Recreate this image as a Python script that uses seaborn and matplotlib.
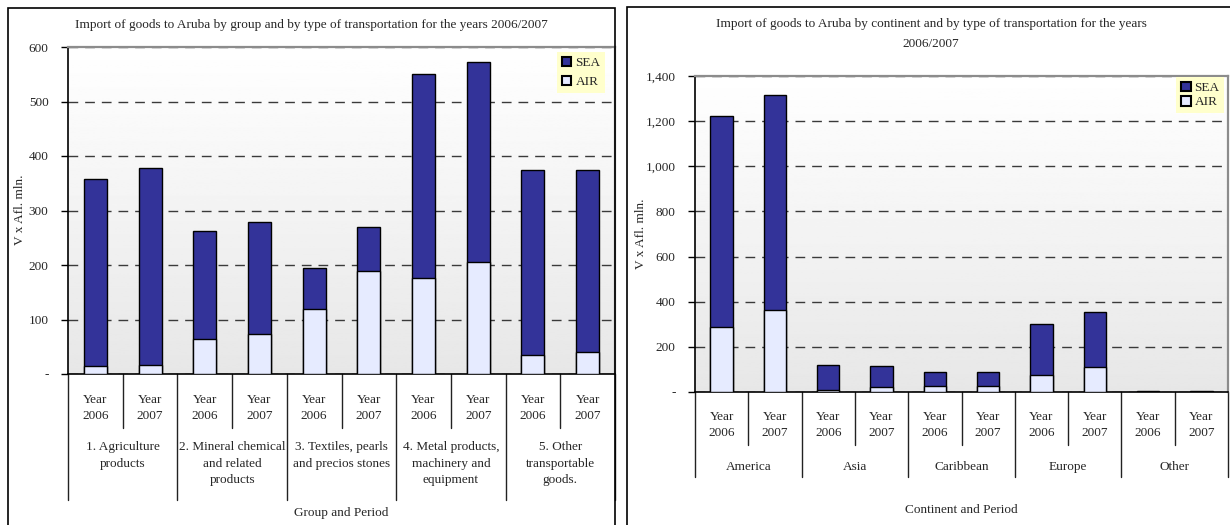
import numpy as np
import pandas as pd
import matplotlib
matplotlib.use('Agg')
import matplotlib.pyplot as plt
import matplotlib.patches as mpatches
from matplotlib.ticker import FuncFormatter
import seaborn as sns

# data (Afl. mln.)
years = ['2006', '2007']
groups = ['1. Agriculture\nproducts', '2. Mineral chemical\nand related\nproducts',
          '3. Textiles, pearls\nand precios stones', '4. Metal products,\nmachinery and\nequipment',
          '5. Other\ntransportable\ngoods.']
group_total = [357, 378, 262, 279, 195, 270, 550, 572, 374, 375]
group_air = [14, 16, 64, 73, 120, 189, 177, 205, 35, 40]

continents = ['America', 'Asia', 'Caribbean', 'Europe', 'Other']
cont_total = [1224, 1316, 120, 116, 90, 89, 300, 354, 3, 3]
cont_air = [288, 362, 10, 20, 28, 28, 76, 112, 1, 1]

SEA = '#333399'
AIR = '#E6EBFF'

sns.set_style('white')
plt.rcParams['font.family'] = ['Liberation Serif', 'DejaVu Serif']
plt.rcParams['font.size'] = 9.5

fig = plt.figure(figsize=(12.3, 5.25), dpi=100)

# outer frames of the two panels
fig.patches.append(mpatches.Rectangle((8 / 1230, -0.02), 607 / 1230, 1.02 - 8 / 525,
                                      transform=fig.transFigure, fill=False, ec='black', lw=1.2))
fig.patches.append(mpatches.Rectangle((627 / 1230, -0.02), 610 / 1230, 1.02 - 7 / 525,
                                      transform=fig.transFigure, fill=False, ec='black', lw=1.2))


def make_panel(rect, cats, total, air, ymax, step, seps, txt, xlabel, leg):
    ax = fig.add_axes(rect)
    keys = [f'{c}_{y}' for c in range(len(cats)) for y in years]
    df = pd.DataFrame({'key': keys, 'total': total, 'air': air})

    # background gradient
    grad = np.linspace(0.905, 1.0, 256)[:, None]
    ax.imshow(grad, extent=[0, 1, 0, 1], transform=ax.transAxes, aspect='auto',
              cmap='gray', vmin=0, vmax=1, origin='lower', zorder=0)

    sns.barplot(data=df, x='key', y='total', order=keys, color=SEA, saturation=1,
                edgecolor='black', linewidth=1, width=0.42, ax=ax, zorder=3)
    sns.barplot(data=df, x='key', y='air', order=keys, color=AIR, saturation=1,
                edgecolor='black', linewidth=1, width=0.42, ax=ax, zorder=4)

    ax.set_xlim(-0.5, len(keys) - 0.5)
    ax.set_ylim(0, ymax)
    ax.set_yticks(np.arange(0, ymax + 1, step))
    ax.yaxis.set_major_formatter(FuncFormatter(lambda v, p: '-' if v == 0 else f'{v:,.0f}'))
    ax.tick_params(axis='y', direction='out', length=5, width=1, color='black',
                   labelsize=9.5, pad=9, left=True)
    ax.set_xticks([])
    ax.set_xlabel('')
    ax.set_ylabel('')
    ax.yaxis.grid(True, linestyle=(0, (7, 5)), color='#3a3a3a', lw=1, zorder=1)
    ax.set_axisbelow(True)
    for s in ['left', 'bottom']:
        ax.spines[s].set_color('black')
        ax.spines[s].set_linewidth(1.2)
    for s in ['top', 'right']:
        ax.spines[s].set_color('#8c8c8c')
        ax.spines[s].set_linewidth(1.6)

    # two level category axis
    short_len, long_len, year_y, grp_y, xl_y = seps
    tr = ax.get_xaxis_transform()
    for i in range(len(keys) + 1):
        ln = long_len if i % 2 == 0 else short_len
        ax.plot([i - 0.5, i - 0.5], [0, ln], transform=tr, color='#222222', lw=1, clip_on=False)
    for i, k in enumerate(keys):
        ax.text(i, year_y, f'Year\n{years[i % 2]}', transform=tr, ha='center', va='center',
                linespacing=1.5)
    for g, name in enumerate(cats):
        ax.text(2 * g + 0.5, grp_y, name, transform=tr, ha='center', va=txt, linespacing=1.5)
    ax.text(len(keys) / 2 - 0.5, xl_y, xlabel, transform=tr, ha='center', va='center')

    handles = [mpatches.Patch(fc=SEA, ec='black', lw=1.5, label='SEA'),
               mpatches.Patch(fc=AIR, ec='black', lw=1.5, label='AIR')]
    lg = ax.legend(handles=handles, loc='upper right', bbox_to_anchor=leg[0], frameon=True,
                   facecolor='#FFFFCC', edgecolor='none', framealpha=1, fancybox=False,
                   handlelength=0.75, handleheight=0.75, handletextpad=0.3,
                   labelspacing=leg[1], borderpad=0.35, borderaxespad=0, fontsize=9.5)
    lg.set_zorder(6)
    return ax


make_panel([68 / 1230, 151 / 525, 547 / 1230, 327 / 525], groups, group_total, group_air,
           600, 100, (-0.165, -0.385, -0.104, -0.205, -0.425), 'top',
           'Group and Period', ((0.982, 0.985), 0.5))
fig.text(311 / 1230, 1 - 25 / 525,
         'Import of goods to Aruba by group and by type of transportation for the years 2006/2007',
         ha='center', va='center')
fig.text(20 / 1230, 1 - 210 / 525, 'V x Afl. mln.', rotation=90, ha='center', va='center')

make_panel([695 / 1230, 133 / 525, 533 / 1230, 316 / 525], continents, cont_total, cont_air,
           1400, 200, (-0.168, -0.269, -0.104, -0.237, -0.373), 'center',
           'Continent and Period', ((0.993, 0.997), 0.15))
fig.text(931 / 1230, 1 - 34 / 525,
         'Import of goods to Aruba by continent and by type of transportation for the years\n2006/2007',
         ha='center', va='center', linespacing=1.8)
fig.text(641 / 1230, 1 - 234 / 525, 'V x Afl. mln.', rotation=90, ha='center', va='center')

fig.savefig('out.png', dpi=100)
